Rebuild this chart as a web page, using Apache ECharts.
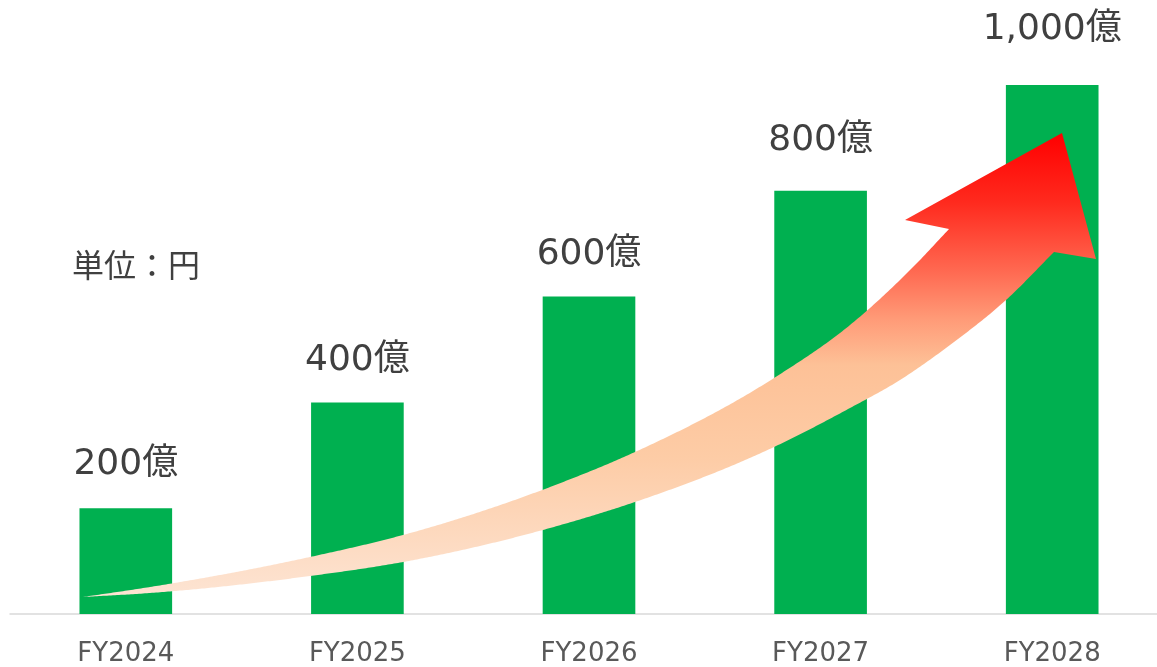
<!DOCTYPE html>
<html>
<head>
<meta charset="utf-8">
<script src="https://cdn.jsdelivr.net/npm/echarts@6/dist/echarts.min.js"></script>
<style>
  html, body { margin: 0; padding: 0; background: #ffffff; }
  #chart { width: 1157px; height: 667px; }
</style>
</head>
<body>
<div id="chart"></div>
<script>
// ---- data ----
const categories = ['FY2024', 'FY2025', 'FY2026', 'FY2027', 'FY2028'];
const values = [200, 400, 600, 800, 1000];
const valueLabels = ['200億', '400億', '600億', '800億', '1,000億'];
const unitText = '単位：円';

// ---- style (not data) ----
const LABEL_DISTANCE = [26, 24, 24, 32, 37];
const LATIN = '"DejaVu Sans", "Noto Sans CJK JP", sans-serif';

// decorative arrow outline (pixel space), edges given left -> right
const ARROW_TOP = [[83,597],[150,587],[310,557],[403,535],[550,487],[635,452],[774,378],[850,325],[917,263],[949,229]];
const ARROW_HEAD = [[905,220],[1062,133],[1096,259]];
const ARROW_BOTTOM = [[83,597],[150,593],[310,576],[403,562],[550,528],[635,502],[774,447],[850,408],[900,380],[950,345],[1006,300],[1054,252]];

// smooth C1 curve y(x) through the given points (non-uniform Hermite)
function smoothEdge(pts, step) {
  const n = pts.length;
  const d = [], m = [];
  for (let i = 0; i < n - 1; i++) d.push((pts[i + 1][1] - pts[i][1]) / (pts[i + 1][0] - pts[i][0]));
  m[0] = d[0];
  m[n - 1] = d[n - 2];
  for (let i = 1; i < n - 1; i++) {
    const h0 = pts[i][0] - pts[i - 1][0], h1 = pts[i + 1][0] - pts[i][0];
    m[i] = (d[i - 1] * h1 + d[i] * h0) / (h0 + h1);
  }
  const out = [];
  for (let i = 0; i < n - 1; i++) {
    const x0 = pts[i][0], x1 = pts[i + 1][0], h = x1 - x0;
    const y0 = pts[i][1], y1 = pts[i + 1][1];
    for (let x = x0; x < x1; x += step) {
      const t = (x - x0) / h, t2 = t * t, t3 = t2 * t;
      const y = (2 * t3 - 3 * t2 + 1) * y0 + (t3 - 2 * t2 + t) * h * m[i] +
                (-2 * t3 + 3 * t2) * y1 + (t3 - t2) * h * m[i + 1];
      out.push([x, y]);
    }
  }
  out.push(pts[n - 1].slice());
  return out;
}

const arrowPoints = []
  .concat(smoothEdge(ARROW_TOP, 2))
  .concat(ARROW_HEAD)
  .concat(smoothEdge(ARROW_BOTTOM, 2).reverse());

const chart = echarts.init(document.getElementById('chart'), null, { renderer: 'canvas' });

chart.setOption({
  animation: false,
  backgroundColor: '#ffffff',
  grid: { left: 10, right: -11, top: 85, bottom: 53, containLabel: false, outerBoundsMode: 'none' },
  xAxis: {
    type: 'category',
    data: categories,
    axisLine: { show: true, lineStyle: { color: '#d9d9d9', width: 1.5 } },
    axisTick: { show: false },
    axisLabel: { color: '#595959', fontSize: 26, fontFamily: LATIN, margin: 27 }
  },
  yAxis: {
    type: 'value',
    min: 0,
    max: 1000,
    show: false,
    splitLine: { show: false }
  },
  series: [{
    type: 'bar',
    barWidth: '40%',
    itemStyle: { color: '#00B050' },
    data: values.map((v, i) => ({
      value: v,
      label: {
        show: true,
        position: 'top',
        distance: LABEL_DISTANCE[i],
        formatter: valueLabels[i],
        color: '#404040',
        fontSize: 36,
        fontFamily: LATIN
      }
    })),
    z: 2
  }],
  graphic: [
    {
      type: 'polygon',
      z: 100,
      shape: { points: arrowPoints },
      style: {
        fill: new echarts.graphic.LinearGradient(0, 0, 0, 1, [
          { offset: 0, color: '#FF0000' },
          { offset: 0.15, color: '#FF2A1E' },
          { offset: 0.3, color: '#FF6A52' },
          { offset: 0.4, color: '#FF9A77' },
          { offset: 0.5, color: '#FDC197' },
          { offset: 0.7, color: '#FDCCA6' },
          { offset: 1, color: '#FDE4D3' }
        ])
      }
    },
    {
      type: 'text',
      left: 72,
      top: 249,
      z: 100,
      style: {
        text: unitText,
        fill: '#404040',
        fontSize: 32,
        fontFamily: '"Noto Sans CJK JP", sans-serif'
      }
    }
  ]
});
</script>
</body>
</html>
